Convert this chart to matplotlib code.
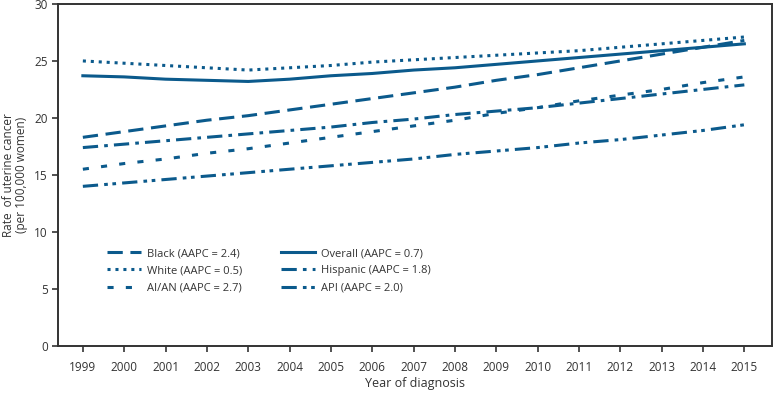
import matplotlib.pyplot as plt

years = list(range(1999, 2016))

black = [18.3, 18.8, 19.3, 19.8, 20.2, 20.7, 21.2, 21.7, 22.2, 22.7, 23.3, 23.8, 24.4, 25.0, 25.6, 26.2, 26.8]
white = [25.0, 24.8, 24.6, 24.4, 24.2, 24.4, 24.6, 24.9, 25.1, 25.3, 25.5, 25.7, 25.9, 26.2, 26.5, 26.8, 27.1]
aian = [15.5, 16.0, 16.4, 16.9, 17.3, 17.8, 18.3, 18.8, 19.3, 19.8, 20.4, 20.9, 21.5, 22.0, 22.5, 23.1, 23.6]
overall = [23.7, 23.6, 23.4, 23.3, 23.2, 23.4, 23.7, 23.9, 24.2, 24.4, 24.7, 25.0, 25.3, 25.6, 25.9, 26.2, 26.5]
hispanic = [17.4, 17.7, 18.0, 18.3, 18.6, 18.9, 19.2, 19.6, 19.9, 20.3, 20.6, 20.9, 21.3, 21.7, 22.1, 22.5, 22.9]
api = [14.0, 14.3, 14.6, 14.9, 15.2, 15.5, 15.8, 16.1, 16.4, 16.8, 17.1, 17.4, 17.8, 18.1, 18.5, 18.9, 19.4]

labels = ["Black (AAPC = 2.4)", "White (AAPC = 0.5)", "AI/AN (AAPC = 2.7)",
          "Overall (AAPC = 0.7)", "Hispanic (AAPC = 1.8)", "API (AAPC = 2.0)"]

color = "#0b5a8c"
txt = "#333333"
plt.rcParams['font.family'] = ['Open Sans', 'DejaVu Sans']

fig = plt.figure(figsize=(7.74, 3.94), dpi=100)
ax = fig.add_axes([0.075, 0.122, 0.923, 0.868])

styles = [(0, (5, 2.5)), (0, (1, 1.6)), (0, (2, 4)), "-", (0, (5, 2, 1.2, 2)), (0, (5, 2, 1.2, 1.5, 1.2, 2))]
series = [black, white, aian, overall, hispanic, api]
for s, ls, lab in zip(series, styles, labels):
    ax.plot(years, s, color=color, linestyle=ls, linewidth=2.2, label=lab)

ax.set_xlim(1998.4, 2015.68)
ax.set_ylim(0, 30)
ax.set_xticks(years)
ax.set_yticks(range(0, 31, 5))
ax.tick_params(colors=txt, labelsize=8.5, direction="out", length=4, width=1.2)
ax.tick_params(axis="x", pad=7)
for sp in ax.spines.values():
    sp.set_color("#333333")
    sp.set_linewidth(1.4)

ax.set_ylabel("Rate  of uterine cancer\n(per 100,000 women)", color=txt, fontsize=8.5,
              linespacing=1.05, va="center")
ax.yaxis.set_label_coords(-0.06, 0.5)
ax.set_xlabel("Year of diagnosis", color=txt, fontsize=9, va="center")
ax.xaxis.set_label_coords(0.5, -0.11)

leg = ax.legend(ncol=2, frameon=False, loc="upper left", bbox_to_anchor=(0.055, 0.315),
                fontsize=8, handlelength=3, handletextpad=0.6, columnspacing=3.5, labelspacing=0.55)
for t in leg.get_texts():
    t.set_color(txt)

fig.savefig("out.png", dpi=100)
